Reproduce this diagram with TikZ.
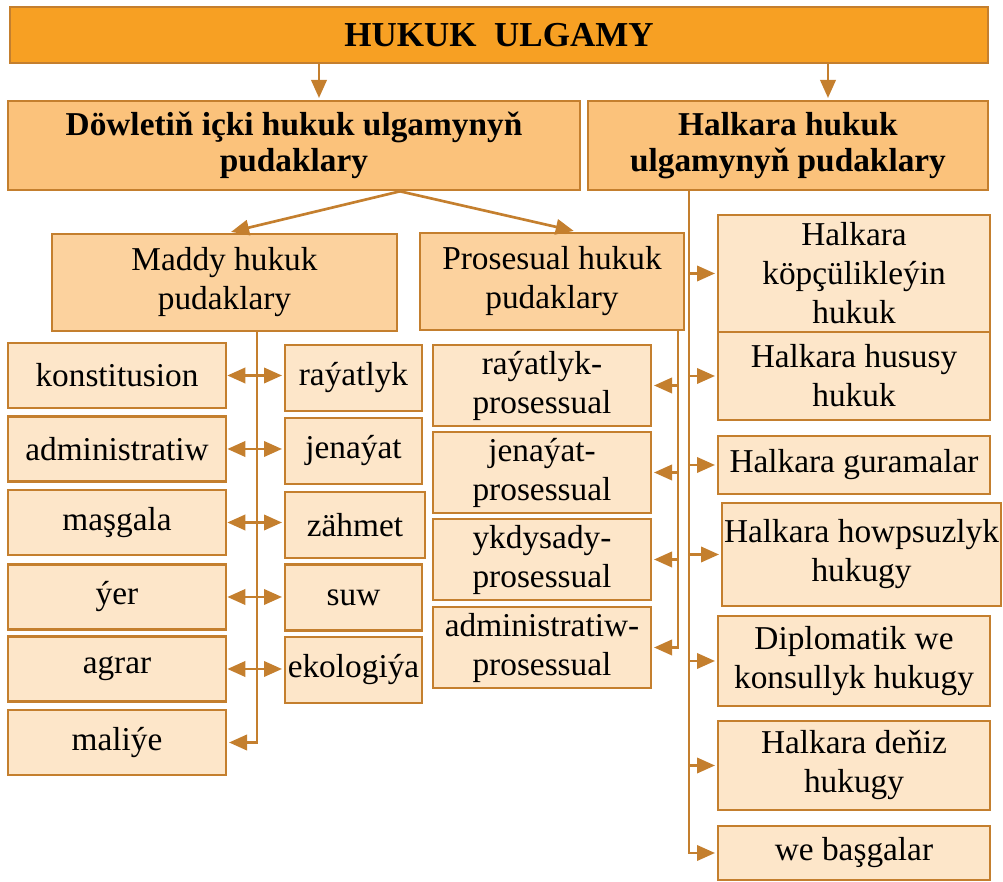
\documentclass[tikz,border=0pt]{standalone}
\usepackage{fontspec}
\setmainfont{Liberation Serif}
\usetikzlibrary{arrows.meta}

\definecolor{hkedge}{HTML}{C47F2E}
\definecolor{hktop}{HTML}{F7A023}
\definecolor{hkmid}{HTML}{FBC27B}
\definecolor{hksub}{HTML}{FCD29E}
\definecolor{hkleaf}{HTML}{FDE6C9}

\begin{document}
\begin{tikzpicture}[x=0.3pt,y=-0.3pt,>={Triangle[length=5.4pt,width=4.6pt]},
  shorten >=0.5pt,
  box/.style={draw=hkedge,line width=0.8pt,inner sep=0pt,align=center,
    font=\fontsize{10}{11.7}\selectfont},
  head/.style={box,fill=hkmid,minimum height=26.7pt,
    font=\fontsize{10}{11}\selectfont\bfseries},
  branch/.style={box,fill=hksub,minimum height=29.1pt},
  mleaf/.style={box,fill=hkleaf,minimum width=65.4pt,minimum height=19.5pt},
  rleaf/.style={box,fill=hkleaf,minimum width=41.1pt,minimum height=19.8pt},
  pleaf/.style={box,fill=hkleaf,minimum width=65.4pt,minimum height=24.3pt},
  hleaf/.style={box,fill=hkleaf,minimum width=81.6pt},
  link/.style={draw=hkedge,line width=0.8pt}]

\useasboundingbox (0,0) rectangle (1003,882);

\node[box,fill=hktop,minimum width=293.4pt,minimum height=16.8pt,
  font=\fontsize{10.5}{12}\selectfont\bfseries] (title) at (499,35) {HUKUK\ \ ULGAMY};

\node[head,minimum width=171.6pt] (dow) at (294,145.5) {Döwletiň içki hukuk ulgamynyň\\pudaklary};
\node[head,minimum width=120pt] (hal) at (788,145.5) {Halkara hukuk\\ulgamynyň pudaklary};

\node[branch,minimum width=103.5pt] (maddy) at (224.5,282.5) {Maddy hukuk\\pudaklary};
\node[branch,minimum width=79.2pt] (pros) at (552,281.5) {Prosesual hukuk\\pudaklary};

\node[mleaf] (m_1) at (117,375.5) {konstitusion};
\node[mleaf] (m_2) at (117,449) {administratiw};
\node[mleaf] (m_3) at (117,522.5) {maşgala};
\node[mleaf] (m_4) at (117,597) {ýer};
\node[mleaf] (m_5) at (117,669) {agrar};
\node[mleaf] (m_6) at (117,742.5) {maliýe};

\node[rleaf] (r_1) at (353.5,378) {raýatlyk};
\node[rleaf] (r_2) at (353.5,451) {jenaýat};
\node[rleaf,minimum width=42pt] (r_3) at (355,525) {zähmet};
\node[rleaf] (r_4) at (353.5,597.5) {suw};
\node[rleaf] (r_5) at (353.5,670) {ekologiýa};

\node[pleaf] (p_1) at (542,385.5) {raýatlyk-\\prosessual};
\node[pleaf] (p_2) at (542,472.5) {jenaýat-\\prosessual};
\node[pleaf] (p_3) at (542,559.5) {ykdysady-\\prosessual};
\node[pleaf] (p_4) at (542,647.5) {administratiw-\\prosessual};

\node[hleaf,minimum height=35.1pt] (h_1) at (854,273.5) {Halkara\\köpçülikleýin\\hukuk};
\node[hleaf,minimum height=26.4pt] (h_2) at (854,376) {Halkara hususy\\hukuk};
\node[hleaf,minimum height=17.4pt] (h_3) at (854,465) {Halkara guramalar};
\node[hleaf,minimum width=83.7pt,minimum height=30.9pt] (h_4) at (861.5,554.5) {Halkara howpsuzlyk\\hukugy};
\node[hleaf,minimum height=27pt] (h_5) at (854,661) {Diplomatik we\\konsullyk hukugy};
\node[hleaf,minimum height=26.7pt] (h_6) at (854,765.5) {Halkara deňiz\\hukugy};
\node[hleaf,minimum height=16.2pt] (h_7) at (854,853) {we başgalar};

\coordinate (in_d) at ([xshift=7.5pt]dow.north);
\coordinate (in_h) at ([xshift=12pt]hal.north);
\coordinate (fork) at ([xshift=31.8pt]dow.south);
\coordinate (trunk_m) at ([xshift=9.75pt]maddy.south);
\coordinate (trunk_p) at ([xshift=37.8pt]pros.south);
\coordinate (trunk_h) at ([xshift=-29.7pt]hal.south);

\draw[link,->] (in_d |- title.south) -- (in_d);
\draw[link,->] (in_h |- title.south) -- (in_h);
\draw[link,->,shorten >=1pt] (fork) -- ([xshift=1pt]maddy.north);
\draw[link,->,shorten >=1pt] (fork) -- ([xshift=7.5pt]pros.north);

\draw[link,->] (trunk_m) |- (m_6.east);
\draw[link,<->] (m_1.east) -- (m_1.east -| r_1.west);
\draw[link,<->] (m_2.east) -- (m_2.east -| r_2.west);
\draw[link,<->] (m_3.east) -- (m_3.east -| r_3.west);
\draw[link,<->] (m_4.east) -- (m_4.east -| r_4.west);
\draw[link,<->] (m_5.east) -- (m_5.east -| r_5.west);

\draw[link,->] (trunk_p) |- (p_4.east);
\draw[link,->] (p_1.east -| trunk_p) -- (p_1.east);
\draw[link,->] (p_2.east -| trunk_p) -- (p_2.east);
\draw[link,->] (p_3.east -| trunk_p) -- (p_3.east);

\draw[link,->] (trunk_h) |- (h_7.west);
\draw[link,->] (h_1.west -| trunk_h) -- (h_1.west);
\draw[link,->] (h_2.west -| trunk_h) -- (h_2.west);
\draw[link,->] (h_3.west -| trunk_h) -- (h_3.west);
\draw[link,->] (h_4.west -| trunk_h) -- (h_4.west);
\draw[link,->] (h_5.west -| trunk_h) -- (h_5.west);
\draw[link,->] (h_6.west -| trunk_h) -- (h_6.west);

\end{tikzpicture}
\end{document}
